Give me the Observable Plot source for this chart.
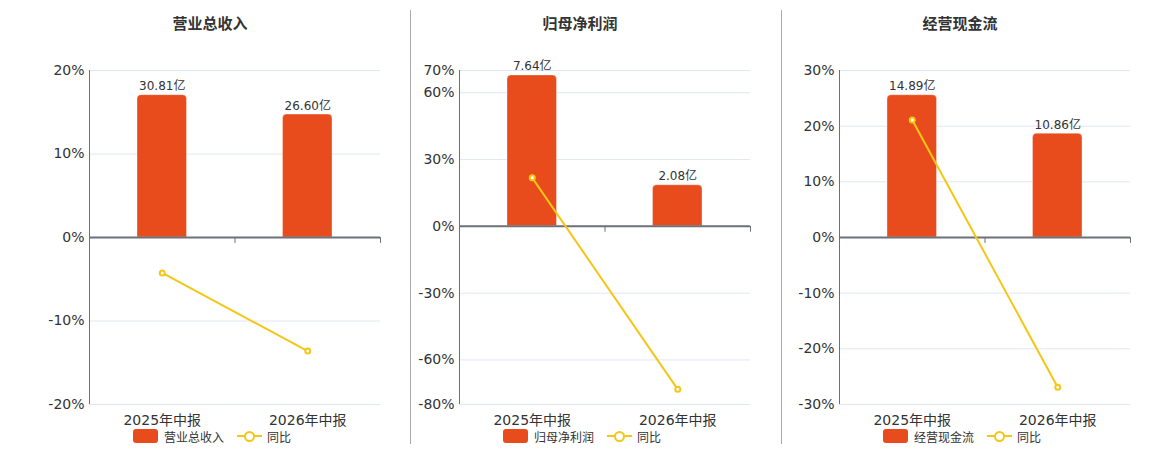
<!DOCTYPE html>
<html><head><meta charset="utf-8">
<script src="https://cdn.jsdelivr.net/npm/d3@7"></script>
<script src="https://cdn.jsdelivr.net/npm/@observablehq/plot@0.6"></script>
<style>
body{margin:0;background:#fff;font-family:"DejaVu Sans","Noto Sans CJK SC",sans-serif;}
#root{position:relative;width:1160px;height:450px;overflow:hidden;}
.svgwrap{position:absolute;top:0;}
.title{position:absolute;top:13px;font-size:15px;font-weight:bold;color:#333;transform:translateX(-50%);white-space:nowrap;font-family:"Noto Sans CJK SC",sans-serif;line-height:20px;}
.sep{position:absolute;top:10px;height:434px;width:1px;background:#aaa;}
.legend{position:absolute;top:429px;height:14px;display:flex;align-items:center;font-size:12px;color:#333;white-space:nowrap;font-family:"Noto Sans CJK SC",sans-serif;}
.legend .box{width:25px;height:14px;border-radius:3px;margin-right:6px;}
.legend .ln{position:relative;width:25px;height:14px;margin-left:13px;margin-right:5px;}
.legend .ln:before{content:"";position:absolute;left:0;right:0;top:6px;height:2px;}
.legend .ln i{position:absolute;left:7px;top:2px;width:7px;height:7px;border-radius:50%;background:#fff;border-width:2px;border-style:solid;}
</style>
</head><body>
<div id="root"></div>
<script>
// ---- data ----
const categories = ["2025年中报", "2026年中报"];
const panelTitles = ["营业总收入", "归母净利润", "经营现金流"];
const revenueValues = [30.81, 26.60];      // 亿
const netProfitValues = [7.64, 2.08];      // 亿
const cashFlowValues = [14.89, 10.86];     // 亿
const revenueYoY = [-4.25, -13.6];         // %
const netProfitYoY = [21.8, -73.2];        // %
const cashFlowYoY = [21.1, -26.9];         // %
const revenueTicks = [20, 10, 0, -10, -20];
const netProfitTicks = [70, 60, 30, 0, -30, -60, -80];
const cashFlowTicks = [30, 20, 10, 0, -10, -20, -30];
// hidden secondary (amount) axis: amount that sits at the top tick
const amountAxisTop = [36.14, 7.89, 17.48];
const legendYoY = "同比";

const barColor = "#E84C1C";
const lineColor = "#F4C615";
const axisColor = "#6E7079";
const gridColor = "#E0E6F1";
const font = '"DejaVu Sans","Noto Sans CJK SC",sans-serif';

const panels = [
  {title: panelTitles[0], values: revenueValues, yoy: revenueYoY, ticks: revenueTicks, amountTop: amountAxisTop[0]},
  {title: panelTitles[1], values: netProfitValues, yoy: netProfitYoY, ticks: netProfitTicks, amountTop: amountAxisTop[1]},
  {title: panelTitles[2], values: cashFlowValues, yoy: cashFlowYoY, ticks: cashFlowTicks, amountTop: amountAxisTop[2]}
];

const root = document.getElementById("root");
const plotLefts = [89, 459, 839];
const plotW = 291, mL = 60, mR = 10;
const tickShape = {draw(context, l) { context.moveTo(0, 0); context.lineTo(0, -l); }};

panels.forEach((p, i) => {
  const yMax = d3.max(p.ticks), yMin = d3.min(p.ticks);
  const rows = categories.map((c, k) => ({
    cat: c, idx: k, value: p.values[k],
    pct: p.values[k] / p.amountTop * yMax,
    yoy: p.yoy[k]
  }));
  const chart = Plot.plot({
    width: mL + plotW + mR, height: 450,
    marginLeft: mL, marginRight: mR, marginTop: 70, marginBottom: 46,
    x: {domain: [0, categories.length], axis: null},
    y: {domain: [yMin, yMax], axis: null},
    style: {fontFamily: font, background: "transparent", overflow: "visible"},
    marks: [
      Plot.gridY(p.ticks, {stroke: gridColor, strokeOpacity: 1}),
      Plot.ruleX([0], {stroke: axisColor}),
      Plot.axisY(p.ticks, {tickSize: 0, tickPadding: 5, tickFormat: d => d + "%", fontSize: 14, color: "#333"}),
      Plot.rectY(rows, {x1: d => d.idx, x2: d => d.idx + 1, y1: 0, y2: "pct", fill: barColor, stroke: "#fff", strokeOpacity: 0.35, strokeWidth: 1, insetLeft: 48, insetRight: 48, ry2: 4}),
      Plot.ruleY([0], {stroke: axisColor, strokeWidth: 2}),
      Plot.vector(d3.range(categories.length + 1), {x: d => d, y: 0, length: 5, rotate: 180, anchor: "start", stroke: axisColor, strokeWidth: 1, shape: tickShape}),
      Plot.text(rows, {x: d => d.idx + 0.5, y: "pct", text: d => d.value.toFixed(2) + "亿", dy: -5, lineAnchor: "bottom", fontSize: 12, fill: "#333"}),
      Plot.axisX(categories.map((c, k) => k + 0.5), {tickSize: 0, tickPadding: 11, tickFormat: v => categories[Math.floor(v)], fontSize: 14, color: "#333"}),
      Plot.line(rows, {x: d => d.idx + 0.5, y: "yoy", stroke: lineColor, strokeWidth: 2}),
      Plot.dot(rows, {x: d => d.idx + 0.5, y: "yoy", r: 2.5, fill: "#fff", stroke: lineColor, strokeWidth: 2})
    ]
  });
  const wrap = document.createElement("div");
  wrap.className = "svgwrap";
  wrap.style.left = (plotLefts[i] - mL) + "px";
  wrap.appendChild(chart);
  root.appendChild(wrap);

  const t = document.createElement("div");
  t.className = "title";
  t.style.left = (plotLefts[i] + 121) + "px";
  t.textContent = p.title;
  root.appendChild(t);

  const lg = document.createElement("div");
  lg.className = "legend";
  lg.style.left = (plotLefts[i] + 44) + "px";
  lg.innerHTML = `<span class="box" style="background:${barColor}"></span><span>${p.title}</span>` +
    `<span class="ln"><i style="border-color:${lineColor}"></i></span><span>${legendYoY}</span>`;
  root.appendChild(lg);
});
// legend line colour
const st = document.createElement("style");
st.textContent = `.legend .ln:before{background:${lineColor};}`;
document.head.appendChild(st);

[410, 781].forEach(x => {
  const s = document.createElement("div");
  s.className = "sep";
  s.style.left = x + "px";
  root.appendChild(s);
});
</script>
</body></html>
